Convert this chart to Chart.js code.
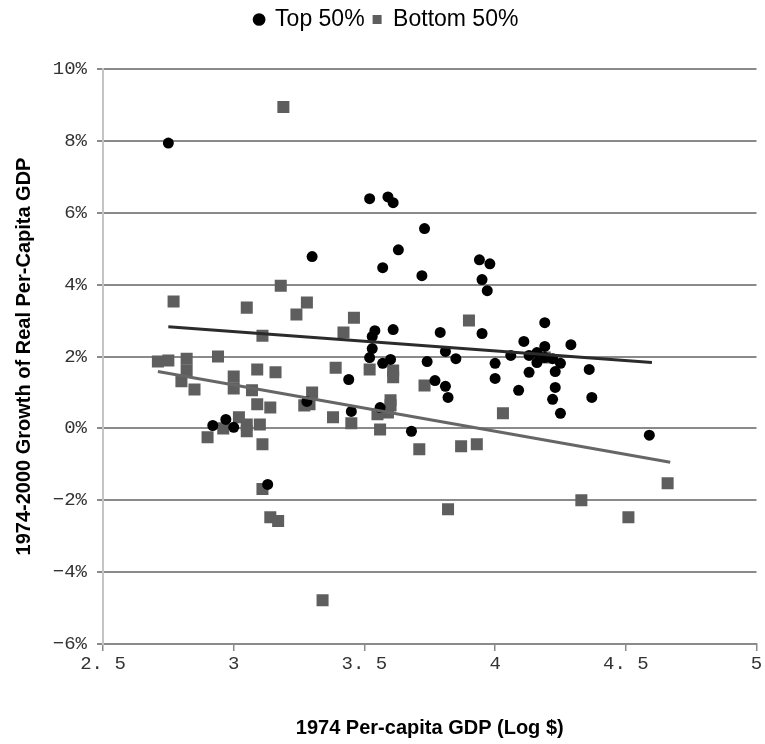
<!DOCTYPE html>
<html>
<head>
<meta charset="utf-8">
<script src="https://cdn.jsdelivr.net/npm/chart.js@4/dist/chart.umd.min.js"></script>
<style>
  html, body { margin: 0; padding: 0; background: #fff; }
  #wrap { width: 765px; height: 744px; }
</style>
</head>
<body>
<div id="wrap"><canvas id="chart" width="765" height="744"></canvas></div>
<script>
// countries above the median (log of 1974 GDP per head, annual growth %)
const topGdp = [2.75, 3.30, 3.28, 2.92, 2.97, 3.00, 3.13, 3.52, 3.59, 3.61, 3.73, 3.63, 3.57, 3.72,
  3.94, 3.98, 3.95, 3.97, 3.54, 3.53, 3.61, 3.53, 3.52, 3.57, 3.60, 3.79, 3.81, 3.74, 3.85,
  3.77, 3.81, 3.82, 3.44, 3.45, 3.56, 3.68, 3.95, 4.00, 4.00, 4.06, 4.11, 4.13, 4.13, 4.09,
  4.19, 4.16, 4.16, 4.19, 4.29, 4.19, 4.22, 4.25, 4.23, 4.36, 4.23, 4.22, 4.37, 4.25, 4.59];
const topGrowth = [7.94, 4.78, 0.75, 0.08, 0.25, 0.03, -1.56, 6.39, 6.44, 6.28, 5.56, 4.97, 4.47, 4.25,
  4.69, 4.58, 4.14, 3.83, 2.72, 2.56, 2.75, 2.22, 1.97, 1.81, 1.92, 2.67, 2.14, 1.86, 1.94,
  1.33, 1.17, 0.86, 1.36, 0.47, 0.58, -0.08, 2.64, 1.81, 1.39, 2.03, 2.42, 2.03, 1.56, 1.06,
  2.28, 2.11, 1.83, 2.94, 2.33, 1.97, 1.94, 1.81, 1.58, 1.64, 1.14, 0.81, 0.86, 0.42, -0.19];

// countries below the median
const bottomGdp = [3.19, 3.18, 2.77, 3.05, 3.28, 3.24, 3.11, 2.71, 2.75, 2.82, 2.94, 2.82, 2.80, 2.85,
  3.00, 3.00, 3.09, 3.16, 3.07, 3.09, 3.14, 3.30, 3.27, 3.29, 3.39, 3.38, 2.96, 2.90, 3.02,
  3.05, 3.05, 3.10, 3.11, 3.11, 3.14, 3.17, 3.34, 3.46, 3.42, 3.52, 3.61, 3.61, 3.73, 3.90,
  3.60, 3.60, 3.59, 3.55, 3.45, 3.56, 3.71, 3.87, 3.93, 4.03, 3.82, 4.19, 4.66, 4.33, 4.51];
const bottomGrowth = [8.94, 3.97, 3.53, 3.36, 3.50, 3.17, 2.58, 1.86, 1.89, 1.94, 2.00, 1.61, 1.31, 1.08,
  1.44, 1.11, 1.64, 1.56, 1.06, 0.67, 0.58, 1.00, 0.64, 0.67, 1.69, 0.31, 0.00, -0.25, 0.31,
  0.11, -0.08, 0.11, -0.44, -1.69, -2.47, -2.58, -4.78, 3.08, 2.67, 1.64, 1.61, 1.42, 1.19, 3.00,
  0.78, 0.64, 0.44, 0.39, 0.14, -0.03, -0.58, -0.50, -0.44, 0.42, -2.25, 1.97, -1.53, -2.00, -2.47];

// linear fits, start and end of each
const topFitGdp = [2.75, 4.60];
const topFitGrowth = [2.83, 1.83];
const bottomFitGdp = [2.71, 4.67];
const bottomFitGrowth = [1.58, -0.94];

const yTicks = [-6, -4, -2, 0, 2, 4, 6, 8, 10];
const xTicks = [2.5, 3, 3.5, 4, 4.5, 5];

const pts = (xs, ys) => xs.map((x, i) => ({ x: x, y: ys[i] }));

const tickFont = { family: '"Liberation Mono", "DejaVu Sans Mono", monospace', size: 19 };
const titleFont = { family: '"Liberation Sans", Arial, sans-serif', size: 20, weight: 'bold' };

// extra room under the legend
const legendGap = {
  id: 'legendGap',
  beforeInit(chart) {
    const fit = chart.legend.fit;
    chart.legend.fit = function () {
      fit.call(this);
      this.height += 28;
    };
  }
};

new Chart(document.getElementById('chart'), {
  type: 'scatter',
  plugins: [legendGap],
  data: {
    datasets: [
      {
        label: 'Top 50%',
        data: pts(topGdp, topGrowth),
        pointStyle: 'circle',
        pointRadius: 5.5,
        pointHoverRadius: 5.5,
        backgroundColor: '#000',
        borderColor: '#000',
        borderWidth: 0,
        order: 1
      },
      {
        label: 'Bottom 50%',
        data: pts(bottomGdp, bottomGrowth),
        pointStyle: 'rect',
        pointRadius: 8.5,
        pointHoverRadius: 8.5,
        backgroundColor: '#5e5e5e',
        borderColor: '#5e5e5e',
        borderWidth: 0,
        order: 2
      },
      {
        label: 'fitTop',
        data: pts(topFitGdp, topFitGrowth),
        showLine: true,
        pointRadius: 0,
        borderColor: '#2b2b2b',
        borderWidth: 3,
        order: 0
      },
      {
        label: 'fitBottom',
        data: pts(bottomFitGdp, bottomFitGrowth),
        showLine: true,
        pointRadius: 0,
        borderColor: '#666',
        borderWidth: 3,
        order: 0
      }
    ]
  },
  options: {
    responsive: false,
    animation: false,
    layout: { padding: { left: 8, right: 0, top: 0, bottom: 0 } },
    plugins: {
      tooltip: { enabled: false },
      legend: {
        position: 'top',
        labels: {
          usePointStyle: true,
          boxWidth: 9,
          boxHeight: 9,
          padding: 8,
          color: '#000',
          font: { family: '"Liberation Sans", Arial, sans-serif', size: 23 },
          filter: item => !item.text.startsWith('fit')
        }
      }
    },
    scales: {
      x: {
        type: 'linear',
        min: 2.5,
        max: 5,
        afterBuildTicks: s => { s.ticks = xTicks.map(v => ({ value: v })); },
        afterFit: s => { s.height = 100; },
        ticks: {
          color: '#333',
          font: tickFont,
          padding: 2,
          maxRotation: 0,
          callback: v => String(v).replace('.', '. ')
        },
        grid: {
          drawOnChartArea: false,
          drawTicks: true,
          tickLength: 7,
          color: '#8a8a8a',
          lineWidth: 1.5
        },
        border: { color: '#8a8a8a', width: 2 },
        title: {
          display: true,
          text: '1974 Per-capita GDP (Log $)',
          color: '#000',
          font: titleFont,
          padding: { top: 20 }
        }
      },
      y: {
        min: -6,
        max: 10,
        afterBuildTicks: s => { s.ticks = yTicks.map(v => ({ value: v })); },
        afterFit: s => { s.width = 95; },
        ticks: {
          color: '#333',
          font: tickFont,
          padding: 10,
          callback: v => (v < 0 ? '\u2212' + (-v) : v) + '%'
        },
        grid: {
          color: '#8a8a8a',
          lineWidth: 2,
          tickLength: 6
        },
        border: { color: '#c4c4c4', width: 2 },
        title: {
          display: true,
          text: '1974-2000 Growth of Real Per-Capita GDP',
          color: '#000',
          font: titleFont,
          padding: { bottom: 0, top: 4 }
        }
      }
    }
  }
});
</script>
</body>
</html>
